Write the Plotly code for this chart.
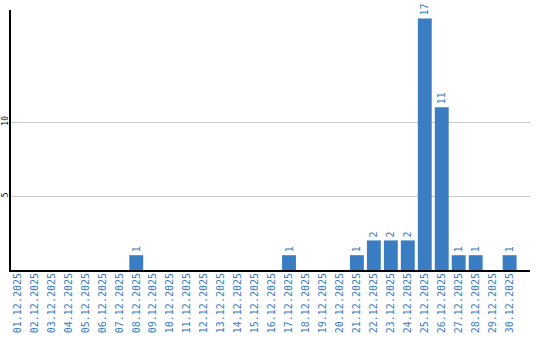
import plotly.graph_objects as go

dates = [f"{d:02d}.12.2025" for d in range(1, 31)]
values = [0, 0, 0, 0, 0, 0, 0, 1, 0, 0,
          0, 0, 0, 0, 0, 0, 1, 0, 0, 0,
          1, 2, 2, 2, 17, 11, 1, 1, 0, 1]
labels = [str(v) if v else "" for v in values]

blue = "#3b7dc2"

fig = go.Figure(go.Bar(
    x=dates, y=values, text=labels, textposition="outside",
    textangle=-90, cliponaxis=False,
    textfont=dict(family="DejaVu Sans Mono", size=10, color=blue),
    marker=dict(color=blue, line=dict(width=0)),
))
fig.update_layout(
    width=540, height=340,
    margin=dict(l=10.5, r=9.5, t=10, b=70),
    paper_bgcolor="white", plot_bgcolor="white",
    bargap=0.18, showlegend=False,
)
fig.update_xaxes(
    type="category", range=[-0.38, 30.2], tickangle=-90, automargin=False,
    tickfont=dict(family="DejaVu Sans Mono", size=10, color=blue),
    showline=True, linecolor="black", linewidth=2, showgrid=False,
    ticks="", ticklabelstandoff=-3,
)
fig.update_yaxes(
    range=[0, 17.57], tickvals=[5, 10], tickangle=-90, automargin=False,
    tickfont=dict(family="DejaVu Sans Mono", size=8, color="black"),
    showline=True, linecolor="black", linewidth=2,
    showgrid=True, gridcolor="#cccccc", gridwidth=1, zeroline=False,
    ticks="", ticklabelstandoff=-2,
)
fig.write_html("out.html")
